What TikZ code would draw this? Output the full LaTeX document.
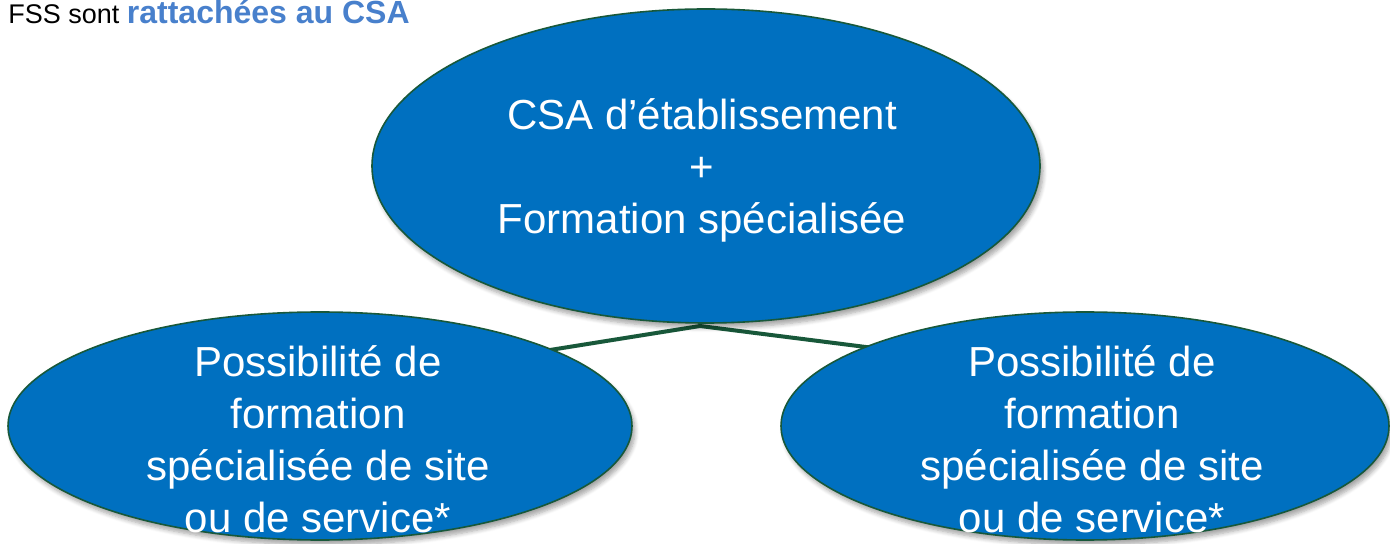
\documentclass[tikz,border=0pt]{standalone}
\usepackage{fontspec}
\setmainfont{Liberation Sans}
\usetikzlibrary{shapes.geometric,shadows.blur}
\definecolor{ellfill}{RGB}{0,112,192}
\definecolor{ellline}{RGB}{24,88,58}
\definecolor{hdrblue}{RGB}{72,128,204}
\tikzset{
  oval/.style={ellipse, fill=ellfill, draw=ellline, line width=0.8pt, inner sep=0pt,
    blur shadow={shadow xshift=1.5pt, shadow yshift=-2.5pt, shadow blur steps=6, shadow opacity=35}},
  ovaltext/.style={text=white, align=center, font=\fontsize{21}{26}\selectfont, inner sep=0pt},
  link/.style={draw=ellline, line width=2pt},
}
\begin{document}
\begin{tikzpicture}[x=0.5pt,y=-0.5pt]
\useasboundingbox (0,0) rectangle (1390,544);
% header
\node[anchor=base west, inner sep=0pt] (hdr) at (8,24)
  {\fontsize{13.5}{15}\selectfont FSS sont \textcolor{hdrblue}{\fontsize{16}{18}\selectfont\bfseries rattachées au CSA}};
% hidden ends of connectors
\coordinate (lend) at (450,366);
\coordinate (rend) at (1000,364);
\coordinate (apex) at (700,326);
\draw[link] (lend) -- (apex) -- (rend);
% top ellipse
\node[oval, minimum width=334pt, minimum height=157pt] (top) at (706,166) {};
\node[ovaltext] (toptext) at (702,170) {CSA d’établissement\\+\\Formation spécialisée};
% side ellipses
\node[oval, minimum width=312pt, minimum height=114pt] (left) at (320,426) {};
\node[ovaltext] (lefttext) at (318,439) {Possibilité de\\formation\\spécialisée de site\\ou de service*};
\node[oval, minimum width=304pt, minimum height=114pt] (right) at (1085,426) {};
\node[ovaltext] (righttext) at (1092,439) {Possibilité de\\formation\\spécialisée de site\\ou de service*};
\end{tikzpicture}
\end{document}
